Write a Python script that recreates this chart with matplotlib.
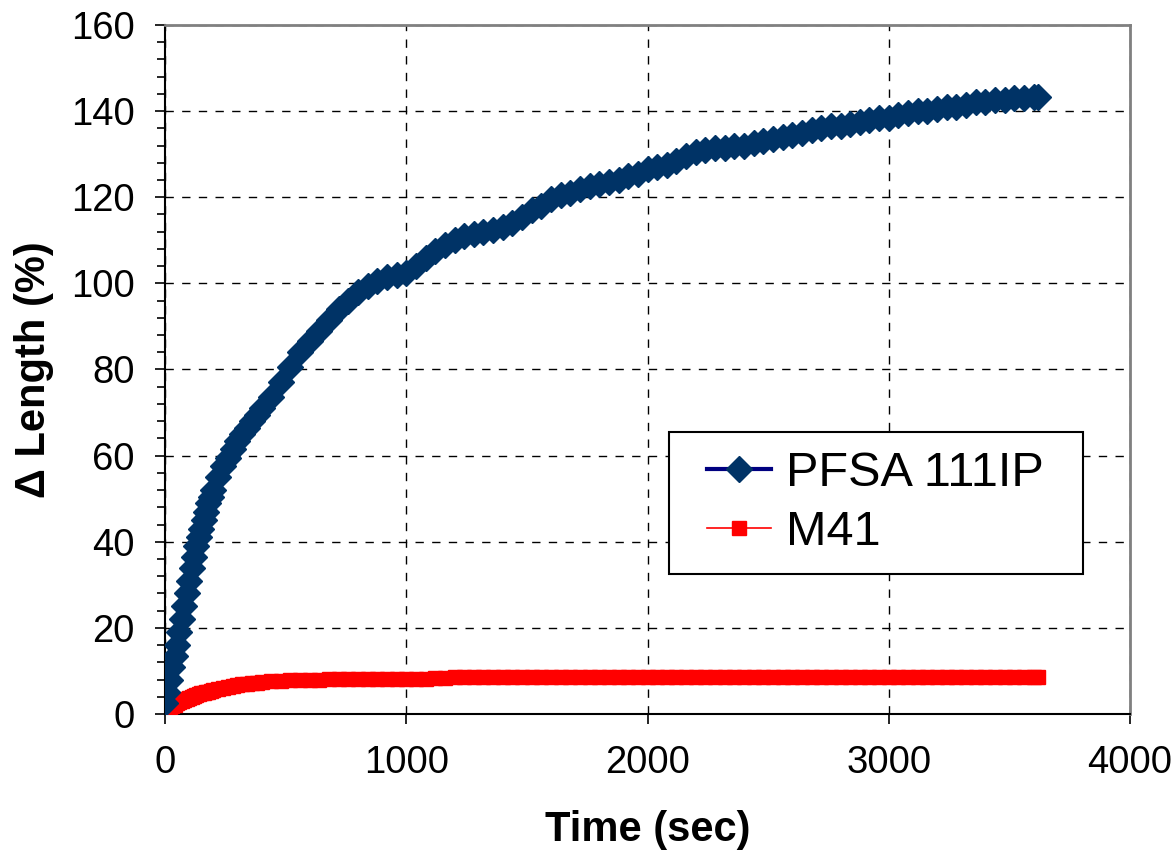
import matplotlib
matplotlib.use("Agg")
import matplotlib.pyplot as plt
from matplotlib.ticker import MultipleLocator
from matplotlib.patches import Rectangle

plt.rcParams['font.family'] = ['Liberation Sans', 'DejaVu Sans']

# time (sec)
time_sec = [0, 10, 20, 30, 40, 50, 60, 70, 80, 90,
            100, 110, 120, 130, 140, 150, 160, 170, 180, 190,
            200, 220, 240, 260, 280, 300, 320, 340, 360, 380,
            400,
            440, 480, 520, 560, 600, 640, 680, 720, 760, 800,
            840, 880, 920, 960, 1000, 1040, 1080, 1120, 1160, 1200,
            1240, 1280, 1320, 1360, 1400, 1440, 1480, 1520, 1560, 1600,
            1640, 1680, 1720, 1760, 1800, 1840, 1880, 1920, 1960, 2000,
            2040, 2080, 2120, 2160, 2200, 2240, 2280, 2320, 2360, 2400,
            2440, 2480, 2520, 2560, 2600, 2640, 2680, 2720, 2760, 2800,
            2840, 2880, 2920, 2960, 3000, 3040, 3080, 3120, 3160, 3200,
            3240, 3280, 3320, 3360, 3400, 3440, 3480, 3520, 3560, 3600,
            3620]

pfsa_111ip = [2.5, 5, 8, 11, 13.5, 16, 19, 22, 25, 28,
              31, 34, 36.5, 39, 41, 43, 45, 47, 49, 50.5,
              52, 55, 57.5, 59.5, 61.5, 63.5, 65, 66.5, 68, 69.5,
              71,
              73.5, 77, 80.5, 84, 86.5, 89, 91.5, 94, 96, 98,
              99.5, 100.5, 101.5, 102, 102.5, 104, 106, 107.5, 109, 110,
              111, 111.5, 112, 112.5, 113, 114, 115.5, 117, 118, 119.5,
              120.5, 121, 122, 122.5, 123, 123.5, 124, 125, 125.5, 126.5,
              127, 127.5, 128.5, 129.5, 130.5, 131, 131.5, 131.5, 132, 132,
              132.5, 133, 133.5, 134, 134.5, 135, 135.5, 136, 136.5, 136.5,
              137, 137.5, 138, 138.5, 138.5, 139, 139.5, 140, 140, 140.5,
              141, 141, 141.5, 142, 142, 142.5, 142.5, 143, 143, 143.2,
              143.3]

m41 = [1.0, 1.3, 1.6, 1.9, 2.2, 2.5, 2.8, 3.0, 3.3, 3.5,
       3.8, 4.0, 4.2, 4.4, 4.6, 4.8, 4.9, 5.1, 5.2, 5.4,
       5.5, 5.8, 6.0, 6.3, 6.5, 6.7, 6.9, 7.0, 7.2, 7.3,
       7.4,
       7.6, 7.7, 7.8, 7.9, 8.0, 8.0, 8.1, 8.1, 8.1, 8.2,
       8.2, 8.2, 8.2, 8.2, 8.2, 8.2, 8.2, 8.3, 8.3, 8.6,
       8.6, 8.6, 8.6, 8.6, 8.6, 8.6, 8.6, 8.6, 8.6, 8.6,
       8.6, 8.6, 8.6, 8.6, 8.6, 8.6, 8.6, 8.6, 8.6, 8.6,
       8.6, 8.6, 8.6, 8.6, 8.7, 8.7, 8.7, 8.7, 8.7, 8.7,
       8.7, 8.7, 8.7, 8.7, 8.7, 8.7, 8.7, 8.7, 8.7, 8.7,
       8.7, 8.7, 8.7, 8.7, 8.7, 8.7, 8.7, 8.7, 8.7, 8.7,
       8.7, 8.7, 8.7, 8.7, 8.7, 8.7, 8.7, 8.7, 8.7, 8.7,
       8.7]

fig = plt.figure(figsize=(11.72, 8.64), dpi=100)
ax = fig.add_axes([0.1408, 0.1736, 0.8234, 0.7975])

ax.plot(time_sec, pfsa_111ip, color='#000080', lw=3, marker='D', ms=13,
        mfc='#003366', mec='#003366', label='PFSA 111IP', zorder=4)
ax.plot(time_sec, m41, color='#FF0000', lw=1.2, marker='s', ms=10.5,
        mfc='#FF0000', mec='#FF0000', label='M41', zorder=3)

ax.set_xlim(0, 4000)
ax.set_ylim(0, 160)
ax.xaxis.set_major_locator(MultipleLocator(1000))
ax.yaxis.set_major_locator(MultipleLocator(20))
ax.yaxis.set_minor_locator(MultipleLocator(4))

ax.grid(which='major', color='black', linestyle=(0, (6, 6)), linewidth=1)
ax.set_axisbelow(True)

for side in ['top', 'right']:
    ax.spines[side].set_color('#808080')
    ax.spines[side].set_linewidth(2)
for side in ['left', 'bottom']:
    ax.spines[side].set_color('black')
    ax.spines[side].set_linewidth(1.5)

ax.tick_params(axis='both', which='major', direction='out', length=7, width=1.2,
               labelsize=27.5, pad=15)
ax.tick_params(axis='y', which='minor', direction='out', length=6, width=1.2)

ax.set_xlabel('Time (sec)', fontsize=30, fontweight='bold')
ax.set_ylabel('Δ Length (%)', fontsize=30, fontweight='bold')
ax.xaxis.set_label_coords(0.5, -0.14)
ax.yaxis.set_label_coords(-0.115, 0.5)

# legend box (Excel style, wide horizontal padding)
ax.add_patch(Rectangle((0.522, 0.203), 0.429, 0.206, transform=ax.transAxes,
                       facecolor='white', edgecolor='black', linewidth=1.5,
                       zorder=6, clip_on=False))
leg = ax.legend(loc='center left', bbox_to_anchor=(0.5617, 0.306), fontsize=35,
                frameon=False, handlelength=1.32, handletextpad=0.3,
                borderpad=0, labelspacing=0.3, borderaxespad=0)
leg.set_zorder(7)

fig.savefig('out.png', dpi=100)
